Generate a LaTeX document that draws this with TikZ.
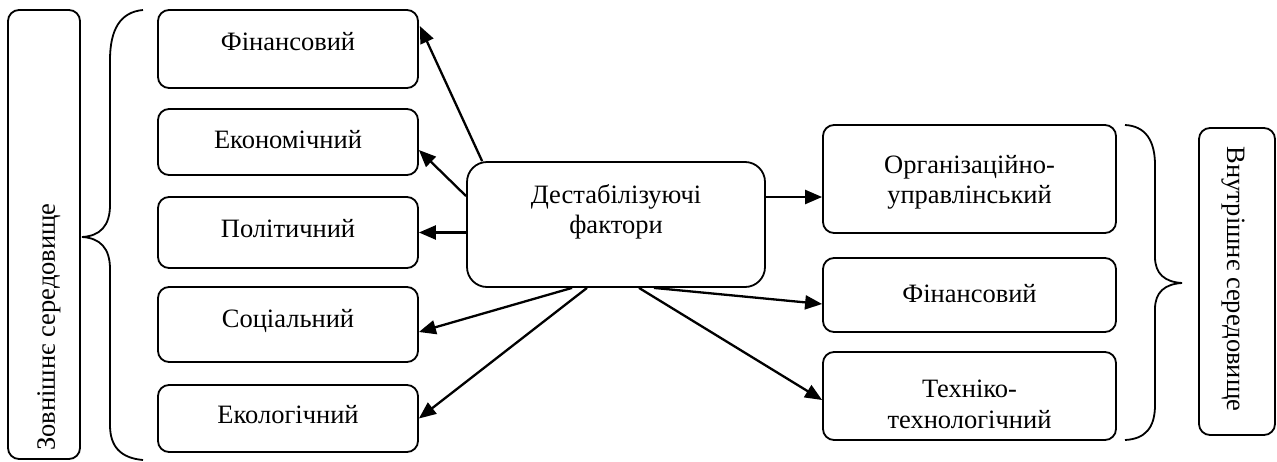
\documentclass[tikz,border=0pt]{standalone}
\usepackage{fontspec}
\setmainfont{Liberation Serif}
\usetikzlibrary{arrows.meta,calc}
\tikzset{
  box/.style={draw, line width=1.8pt, rounded corners=11pt, inner sep=0pt},
  cbox/.style={draw, line width=1.8pt, rounded corners=20pt, inner sep=0pt},
  lbl/.style={font=\fontsize{26.5}{30}\selectfont, align=center, inner sep=0pt},
  arr/.style={line width=2.3pt, -{Triangle[length=17pt,width=14pt]}},
  brace/.style={line width=1.8pt}
}
\begin{document}
\begin{tikzpicture}[x=1pt,y=-1pt]
\useasboundingbox (0,0) rectangle (1277,461);
% outer vertical boxes
\node[box, minimum width=72pt, minimum height=449pt] (zv) at (44,234.5) {};
\node[lbl, rotate=90] (zvt) at (49,327) {Зовнішнє середовище};
\node[box, minimum width=76pt, minimum height=307pt] (vn) at (1237,281.5) {};
\node[lbl, rotate=-90] (vnt) at (1233,279) {Внутрішнє середовище};
% left boxes
\node[box, minimum width=260pt, minimum height=78pt] (f1) at (288,49) {};
\node[lbl, anchor=base] (f1t) at (288,50) {Фінансовий};
\node[box, minimum width=260pt, minimum height=66pt] (e1) at (288,142) {};
\node[lbl, anchor=base] (e1t) at (288,148) {Економічний};
\node[box, minimum width=260pt, minimum height=71pt] (p1) at (288,232.5) {};
\node[lbl, anchor=base] (p1t) at (288,237) {Політичний};
\node[box, minimum width=260pt, minimum height=75pt] (s1) at (288,324.5) {};
\node[lbl, anchor=base] (s1t) at (288,327) {Соціальний};
\node[box, minimum width=260pt, minimum height=67pt] (k1) at (288,418.5) {};
\node[lbl, anchor=base] (k1t) at (288,423) {Екологічний};
% central
\node[cbox, minimum width=298pt, minimum height=125pt] (c) at (616,224.5) {};
\node[lbl, anchor=base] (ct1) at (616,203) {Дестабілізуючі};
\node[lbl, anchor=base] (ct2) at (616,233) {фактори};
% right boxes
\node[box, minimum width=293pt, minimum height=108pt] (o1) at (969.5,179) {};
\node[lbl, anchor=base] (o1t1) at (969.5,173) {Організаційно-};
\node[lbl, anchor=base] (o1t2) at (969.5,203) {управлінський};
\node[box, minimum width=293pt, minimum height=74pt] (f2) at (969.5,295) {};
\node[lbl, anchor=base] (f2t) at (969.5,302) {Фінансовий};
\node[box, minimum width=293pt, minimum height=88pt] (t2) at (969.5,396) {};
\node[lbl, anchor=base] (t2t1) at (969.5,397) {Техніко-};
\node[lbl, anchor=base] (t2t2) at (969.5,428) {технологічний};
% braces
\draw[brace] (143,10) .. controls (120,12) and (110,30) .. (110,60) -- (110,205)
  .. controls (110,226) and (100,236) .. (82,237)
  .. controls (100,238) and (110,248) .. (110,269) -- (110,425)
  .. controls (110,446) and (120,458) .. (143,460);
\draw[brace] (1125,125) .. controls (1145,126) and (1155,140) .. (1155,165) -- (1155,257)
  .. controls (1155,274) and (1165,282) .. (1182,283)
  .. controls (1165,284) and (1155,292) .. (1155,309) -- (1155,405)
  .. controls (1155,428) and (1145,439) .. (1125,440);
% arrows
\coordinate (oin) at ([yshift=-18pt]o1.west);
\draw[arr] ([xshift=16pt]c.north west) -- ([xshift=1pt,yshift=-17pt]f1.north east);
\draw[arr] ([yshift=-35pt]c.north west) -- ([yshift=-8pt]e1.east);
\draw[arr] (c.west |- p1.east) -- (p1.east);
\draw[arr] ([xshift=-44pt]c.south) -- ([yshift=-7.5pt]s1.east);
\draw[arr] ([xshift=-29pt]c.south) -- (k1.east);
\draw[arr] (c.east |- oin) -- (oin);
\draw[arr] ([xshift=38pt]c.south) -- ([yshift=-9pt]f2.west);
\draw[arr] ([xshift=23pt]c.south) -- ([yshift=-4pt]t2.west);
\end{tikzpicture}
\end{document}
